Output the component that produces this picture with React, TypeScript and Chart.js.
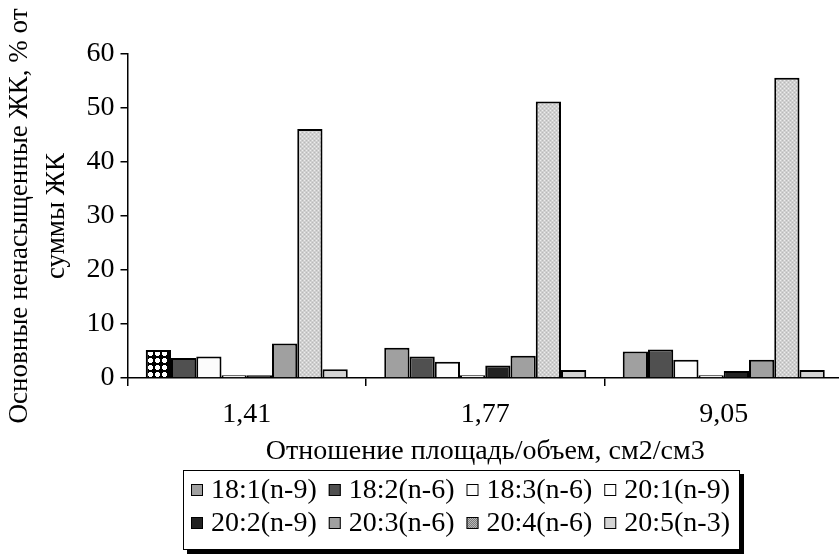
import { useEffect, useRef } from "react";
import { Chart, registerables } from "chart.js";

Chart.register(...registerables);

const categories = ["1,41", "1,77", "9,05"];
const seriesNames = [
  "18:1(n-9)",
  "18:2(n-6)",
  "18:3(n-6)",
  "20:1(n-9)",
  "20:2(n-9)",
  "20:3(n-6)",
  "20:4(n-6)",
  "20:5(n-3)",
];
const s18_1 = [5.2, 5.6, 4.9];
const s18_2 = [3.7, 4.0, 5.3];
const s18_3 = [4.0, 3.0, 3.4];
const s20_1 = [0.5, 0.5, 0.5];
const s20_2 = [0.5, 2.3, 1.3];
const s20_3 = [6.4, 4.1, 3.4];
const s20_4 = [46.1, 51.2, 55.6];
const s20_5 = [1.6, 1.5, 1.5];
const seriesValues = [s18_1, s18_2, s18_3, s20_1, s20_2, s20_3, s20_4, s20_5];

const yTitle = ["Основные ненасыщенные ЖК, % от", "суммы ЖК"];
const xTitle = "Отношение площадь/объем, см2/см3";

const FONT = "'Liberation Serif', 'Times New Roman', serif";
const FS = 28;

function makePattern(size: number, draw: (g: CanvasRenderingContext2D) => void) {
  const c = document.createElement("canvas");
  c.width = size;
  c.height = size;
  const g = c.getContext("2d")!;
  draw(g);
  return g.createPattern(c, "repeat")!;
}

export default function App() {
  const ref = useRef<HTMLCanvasElement | null>(null);

  useEffect(() => {
    const canvas = ref.current;
    if (!canvas) return;

    // black field with white rounded dots (highlighted first point)
    const checker = makePattern(7, (g) => {
      g.fillStyle = "#000";
      g.fillRect(0, 0, 7, 7);
      g.fillStyle = "#fff";
      g.fillRect(1, 2, 5, 3);
      g.fillRect(2, 1, 3, 5);
    });
    // fine light stipple for the 20:4 bars
    const stipple = makePattern(4, (g) => {
      g.fillStyle = "#d0d0d0";
      g.fillRect(0, 0, 4, 4);
      g.fillStyle = "#ededed";
      g.fillRect(0, 0, 1, 1);
      g.fillRect(2, 2, 1, 1);
      g.fillStyle = "#b8b8b8";
      g.fillRect(2, 0, 1, 1);
      g.fillRect(0, 2, 1, 1);
    });
    // darker stipple used by the legend key of 20:4
    const stippleDark = makePattern(2, (g) => {
      g.fillStyle = "#7a7a7a";
      g.fillRect(0, 0, 2, 2);
      g.fillStyle = "#b8b8b8";
      g.fillRect(0, 0, 1, 1);
      g.fillRect(1, 1, 1, 1);
    });

    const barFills: any[] = [
      [checker, "#a0a0a0", "#a0a0a0"],
      "#505050",
      "#fcfcfc",
      "#ffffff",
      "#222222",
      "#a0a0a0",
      stipple,
      "#d4d4d4",
    ];
    const keyFills: any[] = [
      "#a0a0a0",
      "#505050",
      "#fcfcfc",
      "#ffffff",
      "#222222",
      "#a0a0a0",
      stippleDark,
      "#d4d4d4",
    ];

    const legendBox = {
      id: "legendBox",
      afterDraw(chart: any) {
        const ctx: CanvasRenderingContext2D = chart.ctx;
        ctx.save();
        ctx.font = `${FS}px ${FONT}`;
        const sw = 12;
        const gap = 8;
        const itemGap = 12;
        const left = 183;
        const top = 470;
        const rowsY = [490, 523];
        const perRow = 4;
        const rows: number[][] = [];
        let maxW = 0;
        for (let r = 0; r < 2; r++) {
          const idx: number[] = [];
          let w = 0;
          for (let k = 0; k < perRow; k++) {
            const i = r * perRow + k;
            idx.push(i);
            w += sw + gap + ctx.measureText(seriesNames[i]).width + (k < perRow - 1 ? itemGap : 0);
          }
          rows.push(idx);
          maxW = Math.max(maxW, w);
        }
        const boxW = maxW + 8 + 10;
        const boxH = 80;
        // drop shadow
        ctx.fillStyle = "#000";
        ctx.fillRect(left + 4, top + 4, boxW, boxH);
        ctx.fillStyle = "#fff";
        ctx.fillRect(left, top, boxW, boxH);
        ctx.strokeStyle = "#000";
        ctx.lineWidth = 1;
        ctx.strokeRect(left + 0.5, top + 0.5, boxW - 1, boxH - 1);

        ctx.textBaseline = "middle";
        ctx.textAlign = "left";
        rows.forEach((idx, r) => {
          let x = left + 8;
          const cy = rowsY[r];
          idx.forEach((i) => {
            ctx.fillStyle = keyFills[i];
            ctx.fillRect(x, cy - sw / 2, sw, sw);
            ctx.strokeStyle = "#000";
            ctx.lineWidth = 1;
            ctx.strokeRect(x + 0.5, cy - sw / 2 + 0.5, sw - 1, sw - 1);
            ctx.fillStyle = "#000";
            ctx.fillText(seriesNames[i], x + sw + gap, cy + 1);
            x += sw + gap + ctx.measureText(seriesNames[i]).width + itemGap;
          });
        });
        ctx.restore();
      },
    };

    const chart = new Chart(canvas, {
      type: "bar",
      data: {
        labels: categories,
        datasets: seriesValues.map((vals, i) => ({
          label: seriesNames[i],
          data: vals,
          backgroundColor: barFills[i],
          borderColor: "#000",
          borderWidth: 2,
          categoryPercentage: 0.847,
          barPercentage: 1,
        })),
      },
      options: {
        animation: false,
        responsive: false,
        devicePixelRatio: 1,
        layout: { padding: { top: 54, right: 2, left: 0, bottom: 0 } },
        plugins: {
          legend: { display: false },
          tooltip: { enabled: false },
        },
        scales: {
          x: {
            offset: true,
            grid: {
              offset: true,
              drawOnChartArea: false,
              tickLength: 8,
              color: "#000",
              lineWidth: 1.5,
            },
            border: { color: "#000", width: 1.5 },
            ticks: { color: "#000", font: { family: FONT, size: FS }, padding: 12 },
            title: {
              display: true,
              text: xTitle,
              color: "#000",
              font: { family: FONT, size: FS },
              padding: { top: 0, bottom: 88 },
            },
            afterFit: (s: any) => {
              s.height = 178;
            },
          },
          y: {
            min: 0,
            max: 60,
            grid: {
              drawOnChartArea: false,
              tickLength: 7,
              color: "#000",
              lineWidth: 1.5,
            },
            border: { color: "#000", width: 1.5 },
            ticks: {
              stepSize: 10,
              color: "#000",
              font: { family: FONT, size: FS },
              padding: 6,
            },
            title: {
              display: true,
              text: yTitle,
              color: "#000",
              font: { family: FONT, size: 27, lineHeight: 1.36 },
              padding: { top: 2, bottom: 0 },
            },
            afterFit: (s: any) => {
              s.width = 127.5;
            },
          },
        },
      },
      plugins: [legendBox],
    });

    return () => chart.destroy();
  }, []);

  return (
    <div
      style={{
        position: "fixed",
        left: 0,
        top: 0,
        width: 839,
        height: 556,
        overflow: "hidden",
        background: "#fff",
      }}
    >
      <canvas ref={ref} width={845} height={556} style={{ display: "block" }} />
    </div>
  );
}
